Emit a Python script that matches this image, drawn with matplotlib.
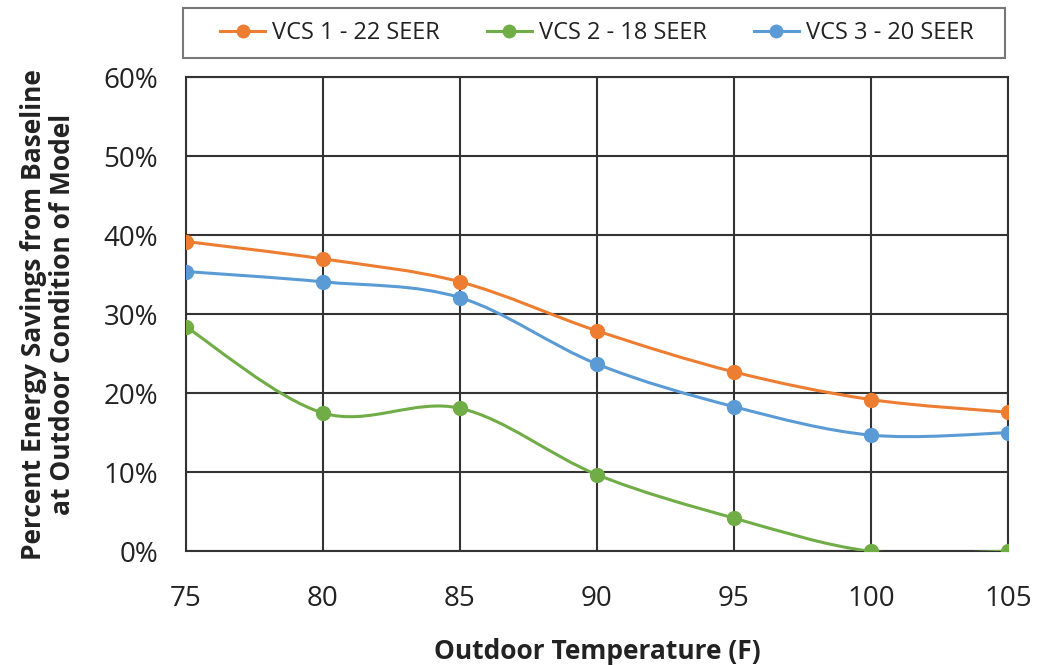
import numpy as np
import matplotlib.pyplot as plt
from matplotlib.path import Path
from matplotlib.patches import PathPatch, Rectangle
from matplotlib.lines import Line2D
from matplotlib.ticker import PercentFormatter

temps = [75, 80, 85, 90, 95, 100, 105]
vcs1 = [39.2, 37.0, 34.1, 27.9, 22.7, 19.2, 17.6]
vcs2 = [28.4, 17.5, 18.1, 9.7, 4.2, 0.0, 0.0]
vcs3 = [35.4, 34.1, 32.1, 23.7, 18.3, 14.7, 15.0]
labels = ['VCS 1 - 22 SEER', 'VCS 2 - 18 SEER', 'VCS 3 - 20 SEER']
colors = ['#ED7D31', '#70AD47', '#5B9BD5']

plt.rcParams['font.family'] = ['Open Sans', 'DejaVu Sans']


def smooth_path(x, y):
    # Excel-like smoothed line: cubic bezier through the points
    x = np.asarray(x, float)
    y = np.asarray(y, float)
    n = len(x)
    verts = [(x[0], y[0])]
    codes = [Path.MOVETO]
    for i in range(n - 1):
        i0 = max(i - 1, 0)
        i3 = min(i + 2, n - 1)
        c1 = (x[i] + (x[i + 1] - x[i0]) / 6, y[i] + (y[i + 1] - y[i0]) / 6)
        c2 = (x[i + 1] - (x[i3] - x[i]) / 6, y[i + 1] - (y[i3] - y[i]) / 6)
        verts += [c1, c2, (x[i + 1], y[i + 1])]
        codes += [Path.CURVE4] * 3
    return Path(verts, codes)


fig = plt.figure(figsize=(10.39, 6.65), dpi=100)
ax = fig.add_axes([0.179, 0.171, 0.791, 0.713])

handles = []
for ys, c, lab in zip([vcs1, vcs2, vcs3], colors, labels):
    ax.add_patch(PathPatch(smooth_path(temps, ys), fill=False, edgecolor=c,
                           lw=2.2, zorder=3))
    ax.plot(temps, ys, 'o', color=c, ms=10, zorder=4)
    handles.append(Line2D([], [], color=c, lw=2.2, marker='o', ms=9, label=lab))

ax.set_xlim(75, 105)
ax.set_ylim(0, 60)
ax.set_xticks(temps)
ax.set_yticks(range(0, 61, 10))
ax.yaxis.set_major_formatter(PercentFormatter(decimals=0))
ax.grid(True, color='#333333', lw=1.5)
ax.set_axisbelow(True)
for s in ax.spines.values():
    s.set_color('#333333')
    s.set_linewidth(1.5)
ax.tick_params(length=0, labelsize=20, colors='#222222')
ax.tick_params(axis='y', pad=20)
ax.tick_params(axis='x', pad=24)

ax.set_xlabel('Outdoor Temperature (F)', fontsize=19, fontweight='bold', labelpad=18,
              color='#222222')
ax.set_ylabel('Percent Energy Savings from Baseline\nat Outdoor Condition of Model',
              fontsize=19, fontweight='bold', labelpad=20, color='#222222',
              linespacing=1.1)

# legend box spans the plot width
ax.add_patch(Rectangle((-0.004, 1.04), 1.0, 0.1055, transform=ax.transAxes,
                       fill=False, edgecolor='#777777', lw=1.5, clip_on=False))
ax.legend(handles=handles, ncol=3, loc='center', bbox_to_anchor=(0.5, 1.093),
          fontsize=17, frameon=False, handlelength=1.9, columnspacing=2.0,
          handletextpad=0.3, borderaxespad=0, labelcolor='#222222')

fig.savefig('out.png', dpi=100)
